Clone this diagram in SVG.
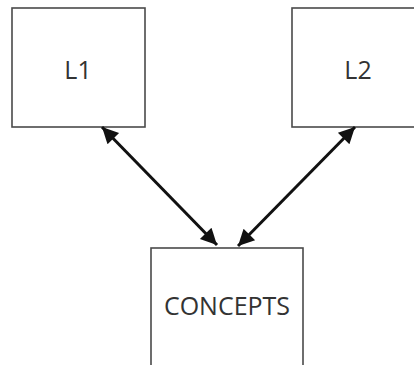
<svg xmlns="http://www.w3.org/2000/svg" width="414" height="365" viewBox="0 0 414 365">
<style>
.box{fill:#fff;stroke:#4a4a4a;stroke-width:1.6}
.lbl{font-family:"Open Sans","Noto Sans",sans-serif;font-size:25px;fill:#333;text-anchor:middle}
.con{fill:none;stroke:#111;stroke-width:3}
</style>
<defs>
<marker id="ah" viewBox="0 0 10 10" refX="10" refY="5" markerWidth="6" markerHeight="5.4" markerUnits="strokeWidth" orient="auto-start-reverse">
<path d="M0,0 L10,5 L0,10 z" fill="#111"/>
</marker>
</defs>
<rect width="414" height="365" fill="#fff"/>
<g id="L1"><rect class="box" x="12" y="8" width="133" height="119"/><text class="lbl" x="78" y="79">L1</text></g>
<g id="L2"><rect class="box" x="292" y="8" width="130" height="119"/><text class="lbl" x="358" y="79">L2</text></g>
<g id="CONCEPTS"><rect class="box" x="151" y="248" width="152" height="130"/><text class="lbl" x="227" y="315">CONCEPTS</text></g>
<g id="connectors">
<path class="con" d="M102,127 L217,245" marker-start="url(#ah)" marker-end="url(#ah)"/>
<path class="con" d="M355,127 L238,246" marker-start="url(#ah)" marker-end="url(#ah)"/>
</g>
</svg>
